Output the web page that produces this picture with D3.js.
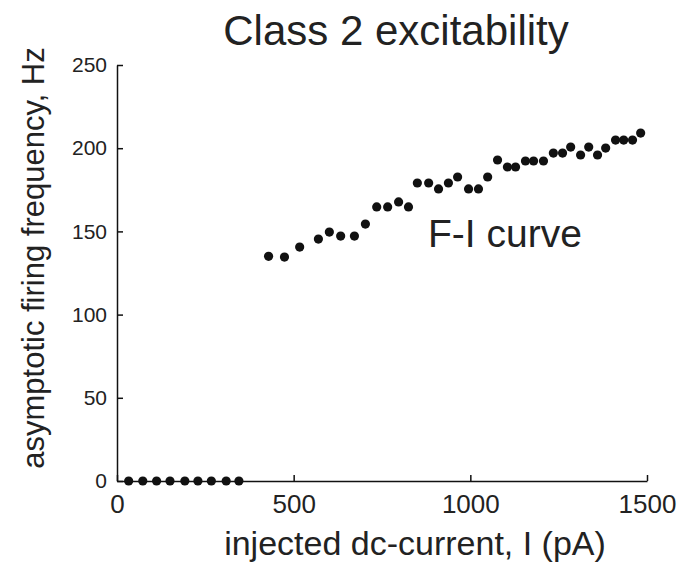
<!DOCTYPE html>
<meta charset="utf-8">
<script src="https://cdn.jsdelivr.net/npm/d3@7"></script>
<style>
  body { margin: 0; background: #fff; }
  text { font-family: "Liberation Sans", Arial, Helvetica, sans-serif; fill: #222; }
</style>
<div id="my_dataviz"></div>
<script>
// data: injected current (pA) and firing rate (Hz)
var currentPA = [33, 73, 112, 150, 192, 229, 267, 309, 345,
  429, 474, 517, 570, 601, 633, 672, 703, 735, 766, 797, 825, 850, 882, 910, 938,
  964, 995, 1023, 1049, 1077, 1105, 1128, 1156, 1179, 1207, 1235, 1261, 1284,
  1312, 1335, 1360, 1383, 1411, 1434, 1459, 1482];
var freqHz = [0, 0, 0, 0, 0, 0, 0, 0, 0,
  135, 134.6, 140.6, 145.4, 149.6, 147.2, 147.2, 154.4, 164.7, 164.7, 167.7, 164.7,
  179.1, 179.1, 175.5, 179.1, 182.7, 175.5, 175.5, 182.7, 192.9, 188.7, 188.7,
  192.3, 192.3, 192.3, 197.1, 197.1, 200.7, 195.9, 200.7, 195.9, 200.1, 204.9,
  204.9, 204.9, 209.1];
var xTicks = [0, 500, 1000, 1500];
var yTicks = [0, 50, 100, 150, 200, 250];

var data = currentPA.map(function(d, i) { return {x: d, y: freqHz[i]}; });

var W = 685, H = 562;
var margin = {top: 65, right: 38, bottom: 81, left: 117},
    width = W - margin.left - margin.right,
    height = H - margin.top - margin.bottom;

var svg = d3.select("#my_dataviz")
  .append("svg")
    .attr("width", W)
    .attr("height", H);

var g = svg.append("g")
    .attr("transform", "translate(" + margin.left + "," + margin.top + ")");

var x = d3.scaleLinear().domain([0, 1500]).range([0, width]);
var y = d3.scaleLinear().domain([0, 250]).range([height, 0]);

// X axis (ticks point inward, like matlab)
var xAxis = g.append("g")
  .attr("transform", "translate(0," + height + ")")
  .call(d3.axisBottom(x).tickValues(xTicks).tickFormat(d3.format("d"))
    .tickSizeInner(-6).tickSizeOuter(0).tickPadding(14));
// Y axis
var yAxis = g.append("g")
  .call(d3.axisLeft(y).tickValues(yTicks).tickFormat(d3.format("d"))
    .tickSizeInner(-6).tickSizeOuter(0).tickPadding(10));

[xAxis, yAxis].forEach(function(a) {
  a.select(".domain").attr("stroke", "#111").attr("stroke-width", 1.5);
  a.selectAll(".tick line").attr("stroke", "#111").attr("stroke-width", 1.5);
  a.selectAll(".tick text")
    .style("font-family", "'Liberation Sans', Arial, sans-serif")
    .attr("fill", "#222");
});
xAxis.selectAll(".tick text").style("font-size", "26px");
yAxis.selectAll(".tick text").style("font-size", "21px");

// points
g.selectAll("circle.pt")
  .data(data)
  .enter()
  .append("circle")
    .attr("class", "pt")
    .attr("cx", function(d) { return x(d.x); })
    .attr("cy", function(d) { return y(d.y); })
    .attr("r", 4.6)
    .attr("fill", "#111");

// title
svg.append("text")
  .attr("x", 396)
  .attr("y", 45)
  .attr("text-anchor", "middle")
  .style("font-size", "42px")
  .text("Class 2 excitability");

// annotation
svg.append("text")
  .attr("x", 428)
  .attr("y", 247)
  .style("font-size", "39px")
  .text("F-I curve");

// x label
svg.append("text")
  .attr("x", 415)
  .attr("y", 555)
  .attr("text-anchor", "middle")
  .style("font-size", "34px")
  .text("injected dc-current, I (pA)");

// y label
svg.append("text")
  .attr("transform", "translate(44,258) rotate(-90)")
  .attr("text-anchor", "middle")
  .style("font-size", "31px")
  .text("asymptotic firing frequency, Hz");
</script>
